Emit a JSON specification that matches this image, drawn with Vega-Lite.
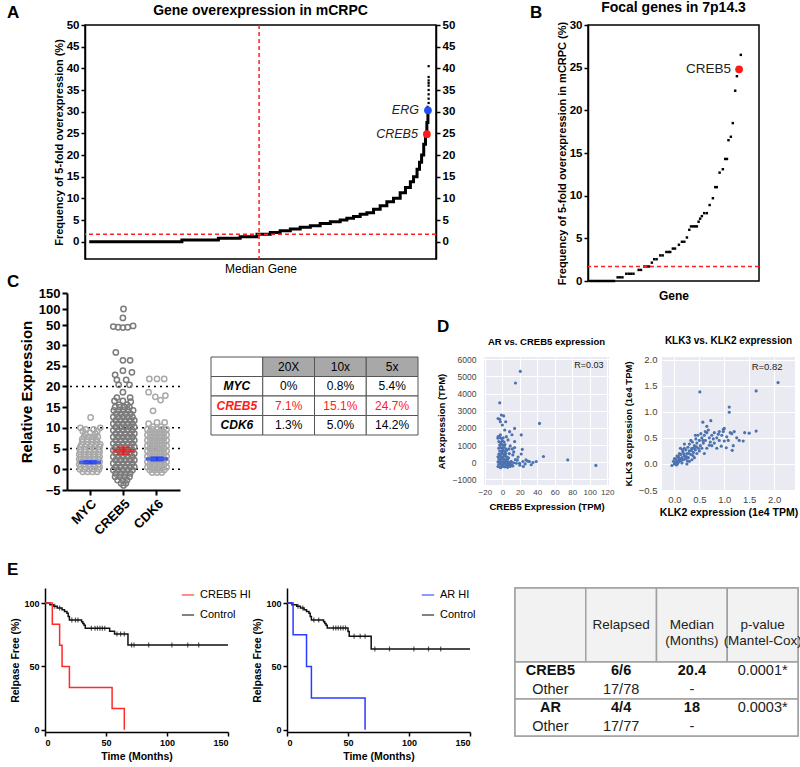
{
"$schema":"https://vega.github.io/schema/vega-lite/v6.json",
"background":"white",
"padding":{"left":7,"top":0,"right":0,"bottom":0},
"config":{
 "font":"Liberation Sans",
 "view":{"stroke":null},
 "axis":{"domainColor":"black","tickColor":"black","labelColor":"black","titleColor":"black","labelFont":"Liberation Sans","titleFont":"Liberation Sans","grid":false,"labelOverlap":false},
 "title":{"font":"Liberation Sans","color":"black"},
 "legend":{"labelFont":"Liberation Sans","labelColor":"black"},
 "text":{"font":"Liberation Sans"}
},
"datasets":{
 "curveA":[{"rank":1.2,"freq":0},{"rank":27.6,"freq":0.4},{"rank":38.0,"freq":0.8},{"rank":44.2,"freq":1.15},{"rank":49.0,"freq":1.7},{"rank":52.8,"freq":2.1},{"rank":55.6,"freq":2.5},{"rank":58.5,"freq":2.9},{"rank":61.3,"freq":3.3},{"rank":64.2,"freq":3.7},{"rank":67.0,"freq":4.2},{"rank":69.9,"freq":4.6},{"rank":72.7,"freq":5.0},{"rank":74.6,"freq":5.4},{"rank":76.5,"freq":5.8},{"rank":78.4,"freq":6.3},{"rank":80.3,"freq":6.7},{"rank":82.2,"freq":7.5},{"rank":84.1,"freq":8.3},{"rank":86.0,"freq":9.2},{"rank":87.9,"freq":10.0},{"rank":89.8,"freq":11.3},{"rank":91.3,"freq":12.5},{"rank":92.7,"freq":13.8},{"rank":93.6,"freq":15.0},{"rank":94.6,"freq":16.7},{"rank":95.3,"freq":18.3},{"rank":95.9,"freq":20.0},{"rank":96.5,"freq":22.5},{"rank":97.0,"freq":24.7},{"rank":97.4,"freq":27.5},{"rank":97.7,"freq":31.0},{"rank":97.9,"freq":31.0}],
 "dotsA":[{"rank":97.9,"freq":32},{"rank":97.9,"freq":33},{"rank":97.9,"freq":34},{"rank":97.9,"freq":35},{"rank":97.9,"freq":36},{"rank":97.9,"freq":36.6},{"rank":97.9,"freq":37.2},{"rank":97.9,"freq":38},{"rank":97.9,"freq":40.5}],
 "hiA":[{"gene":"ERG","rank":97.7,"freq":30.3},{"gene":"CREB5","rank":97.4,"freq":24.8}],
 "focalB":[{"rank":1,"freq":0},{"rank":2,"freq":0},{"rank":3,"freq":0},{"rank":4,"freq":0},{"rank":5,"freq":0},{"rank":6,"freq":0},{"rank":7,"freq":0},{"rank":8,"freq":0},{"rank":9,"freq":0},{"rank":10,"freq":0},{"rank":11,"freq":0},{"rank":12,"freq":0},{"rank":13.7,"freq":0.43},{"rank":14.8,"freq":0.43},{"rank":15.9,"freq":0.43},{"rank":17.7,"freq":0.85},{"rank":18.8,"freq":0.85},{"rank":19.9,"freq":0.85},{"rank":21,"freq":0.85},{"rank":23.4,"freq":1.3},{"rank":24.5,"freq":1.3},{"rank":26,"freq":1.7},{"rank":27.1,"freq":1.7},{"rank":28.2,"freq":1.7},{"rank":29.5,"freq":2.15},{"rank":30.6,"freq":2.55},{"rank":31.7,"freq":2.55},{"rank":33.4,"freq":3.0},{"rank":34.5,"freq":3.0},{"rank":36.2,"freq":3.4},{"rank":37.2,"freq":3.4},{"rank":38,"freq":3.4},{"rank":39.2,"freq":3.8},{"rank":40.2,"freq":3.8},{"rank":42,"freq":4.25},{"rank":43.4,"freq":4.6},{"rank":44.5,"freq":4.6},{"rank":45.7,"freq":5.1},{"rank":46.8,"freq":6.0},{"rank":47.6,"freq":6.4},{"rank":48.6,"freq":6.4},{"rank":49.5,"freq":6.4},{"rank":50.3,"freq":6.4},{"rank":51.1,"freq":6.95},{"rank":51.8,"freq":7.3},{"rank":52.6,"freq":7.6},{"rank":53.7,"freq":7.95},{"rank":54.9,"freq":7.95},{"rank":56.2,"freq":8.9},{"rank":57.7,"freq":9.7},{"rank":58.8,"freq":11.0},{"rank":59.5,"freq":11.0},{"rank":60.8,"freq":12.7},{"rank":62.3,"freq":13.1},{"rank":63.4,"freq":14.3},{"rank":64.2,"freq":14.3},{"rank":64.9,"freq":16.5},{"rank":66,"freq":16.9},{"rank":66.9,"freq":18.5},{"rank":68,"freq":22.3},{"rank":68.8,"freq":24.0},{"rank":70.6,"freq":26.5}],
 "hiB":[{"gene":"CREB5","rank":69.8,"freq":24.8}],
 "levelsC":[{"level":0},{"level":5},{"level":10},{"level":20}],
 "meanC":[{"g":"MYC","m":1.7,"lo":1.4,"hi":2.0},{"g":"CREB5","m":4.5,"lo":3.7,"hi":5.3},{"g":"CDK6","m":2.5,"lo":2.1,"hi":2.9}],
 "swarmC":[
 {"g":"MYC","v":12.5,"j":0.05},{"g":"MYC","v":10,"j":-0.8},{"g":"MYC","v":10,"j":0.85},{"g":"MYC","v":9.6,"j":-0.35},{"g":"MYC","v":9.6,"j":0.3},{"g":"MYC","v":9.2,"j":0.6},{"g":"MYC","v":9.2,"j":-0.6},{"g":"MYC","v":8.8,"j":0},{"g":"MYC","v":8.6,"j":0.45},{"g":"MYC","v":8.6,"j":-0.4},
 {"g":"MYC","v":7.8,"j":-0.5},{"g":"MYC","v":7.8,"j":-0.1},{"g":"MYC","v":7.8,"j":0.3},{"g":"MYC","v":7.8,"j":0.65},
 {"g":"MYC","v":7.2,"j":-0.65},{"g":"MYC","v":7.2,"j":-0.25},{"g":"MYC","v":7.2,"j":0.15},{"g":"MYC","v":7.2,"j":0.5},
 {"g":"MYC","v":6.6,"j":-0.6},{"g":"MYC","v":6.6,"j":-0.2},{"g":"MYC","v":6.6,"j":0.2},{"g":"MYC","v":6.6,"j":0.6},
 {"g":"MYC","v":6.0,"j":-0.7},{"g":"MYC","v":6.0,"j":-0.3},{"g":"MYC","v":6.0,"j":0.1},{"g":"MYC","v":6.0,"j":0.5},{"g":"MYC","v":6.0,"j":0.85},
 {"g":"MYC","v":5.4,"j":-0.8},{"g":"MYC","v":5.4,"j":-0.4},{"g":"MYC","v":5.4,"j":0},{"g":"MYC","v":5.4,"j":0.4},{"g":"MYC","v":5.4,"j":0.8},
 {"g":"MYC","v":4.8,"j":-0.85},{"g":"MYC","v":4.8,"j":-0.45},{"g":"MYC","v":4.8,"j":-0.05},{"g":"MYC","v":4.8,"j":0.35},{"g":"MYC","v":4.8,"j":0.75},
 {"g":"MYC","v":4.2,"j":-0.8},{"g":"MYC","v":4.2,"j":-0.4},{"g":"MYC","v":4.2,"j":0},{"g":"MYC","v":4.2,"j":0.4},{"g":"MYC","v":4.2,"j":0.8},
 {"g":"MYC","v":3.6,"j":-0.9},{"g":"MYC","v":3.6,"j":-0.5},{"g":"MYC","v":3.6,"j":-0.1},{"g":"MYC","v":3.6,"j":0.3},{"g":"MYC","v":3.6,"j":0.7},
 {"g":"MYC","v":3.0,"j":-0.8},{"g":"MYC","v":3.0,"j":-0.4},{"g":"MYC","v":3.0,"j":0},{"g":"MYC","v":3.0,"j":0.4},{"g":"MYC","v":3.0,"j":0.8},
 {"g":"MYC","v":2.4,"j":-0.9},{"g":"MYC","v":2.4,"j":-0.5},{"g":"MYC","v":2.4,"j":-0.1},{"g":"MYC","v":2.4,"j":0.3},{"g":"MYC","v":2.4,"j":0.7},
 {"g":"MYC","v":1.8,"j":-0.8},{"g":"MYC","v":1.8,"j":-0.4},{"g":"MYC","v":1.8,"j":0},{"g":"MYC","v":1.8,"j":0.4},{"g":"MYC","v":1.8,"j":0.8},
 {"g":"MYC","v":1.2,"j":-0.9},{"g":"MYC","v":1.2,"j":-0.5},{"g":"MYC","v":1.2,"j":-0.1},{"g":"MYC","v":1.2,"j":0.3},{"g":"MYC","v":1.2,"j":0.7},
 {"g":"MYC","v":0.6,"j":-0.8},{"g":"MYC","v":0.6,"j":-0.4},{"g":"MYC","v":0.6,"j":0},{"g":"MYC","v":0.6,"j":0.4},{"g":"MYC","v":0.6,"j":0.8},
 {"g":"MYC","v":0,"j":-0.85},{"g":"MYC","v":0,"j":-0.45},{"g":"MYC","v":0,"j":-0.05},{"g":"MYC","v":0,"j":0.35},{"g":"MYC","v":0,"j":0.75},
 {"g":"MYC","v":-0.6,"j":-0.6},{"g":"MYC","v":-0.6,"j":-0.2},{"g":"MYC","v":-0.6,"j":0.2},{"g":"MYC","v":-0.6,"j":0.6},
 {"g":"CREB5","v":100,"j":0},{"g":"CREB5","v":72,"j":-0.05},{"g":"CREB5","v":45,"j":-0.85},{"g":"CREB5","v":43,"j":-0.45},{"g":"CREB5","v":42,"j":-0.05},{"g":"CREB5","v":43,"j":0.35},{"g":"CREB5","v":47,"j":0.8},
 {"g":"CREB5","v":28.2,"j":-0.64},{"g":"CREB5","v":26.3,"j":-0.05},{"g":"CREB5","v":26.3,"j":0.55},{"g":"CREB5","v":23.4,"j":0.7},{"g":"CREB5","v":23.8,"j":-0.05},{"g":"CREB5","v":22.8,"j":-0.7},{"g":"CREB5","v":21.6,"j":-0.55},{"g":"CREB5","v":21.6,"j":0.22},{"g":"CREB5","v":20.4,"j":-0.4},{"g":"CREB5","v":20.4,"j":0.5},{"g":"CREB5","v":18.6,"j":-0.05},{"g":"CREB5","v":17.3,"j":-0.55},{"g":"CREB5","v":17.3,"j":0.55},{"g":"CREB5","v":16.5,"j":-0.75},{"g":"CREB5","v":16.5,"j":-0.05},{"g":"CREB5","v":16.3,"j":0.6},{"g":"CREB5","v":15.6,"j":-0.35},{"g":"CREB5","v":15.6,"j":0.3},
 {"g":"CREB5","v":15.0,"j":-0.7},{"g":"CREB5","v":15.0,"j":-0.3},{"g":"CREB5","v":15.0,"j":0.1},{"g":"CREB5","v":15.0,"j":0.5},
 {"g":"CREB5","v":14.2,"j":-0.8},{"g":"CREB5","v":14.2,"j":-0.4},{"g":"CREB5","v":14.2,"j":0},{"g":"CREB5","v":14.2,"j":0.4},{"g":"CREB5","v":14.2,"j":0.8},
 {"g":"CREB5","v":13.4,"j":-0.6},{"g":"CREB5","v":13.4,"j":-0.2},{"g":"CREB5","v":13.4,"j":0.2},{"g":"CREB5","v":13.4,"j":0.6},
 {"g":"CREB5","v":12.6,"j":-0.85},{"g":"CREB5","v":12.6,"j":-0.45},{"g":"CREB5","v":12.6,"j":-0.05},{"g":"CREB5","v":12.6,"j":0.35},{"g":"CREB5","v":12.6,"j":0.75},
 {"g":"CREB5","v":11.8,"j":-0.65},{"g":"CREB5","v":11.8,"j":-0.25},{"g":"CREB5","v":11.8,"j":0.15},{"g":"CREB5","v":11.8,"j":0.55},{"g":"CREB5","v":11.8,"j":0.9},
 {"g":"CREB5","v":11.0,"j":-0.85},{"g":"CREB5","v":11.0,"j":-0.45},{"g":"CREB5","v":11.0,"j":-0.05},{"g":"CREB5","v":11.0,"j":0.35},{"g":"CREB5","v":11.0,"j":0.75},
 {"g":"CREB5","v":10.2,"j":-0.65},{"g":"CREB5","v":10.2,"j":-0.25},{"g":"CREB5","v":10.2,"j":0.15},{"g":"CREB5","v":10.2,"j":0.55},{"g":"CREB5","v":10.2,"j":0.9},
 {"g":"CREB5","v":9.4,"j":-0.85},{"g":"CREB5","v":9.4,"j":-0.45},{"g":"CREB5","v":9.4,"j":-0.05},{"g":"CREB5","v":9.4,"j":0.35},{"g":"CREB5","v":9.4,"j":0.75},
 {"g":"CREB5","v":8.6,"j":-0.65},{"g":"CREB5","v":8.6,"j":-0.25},{"g":"CREB5","v":8.6,"j":0.15},{"g":"CREB5","v":8.6,"j":0.55},{"g":"CREB5","v":8.6,"j":0.9},
 {"g":"CREB5","v":7.8,"j":-0.85},{"g":"CREB5","v":7.8,"j":-0.45},{"g":"CREB5","v":7.8,"j":-0.05},{"g":"CREB5","v":7.8,"j":0.35},{"g":"CREB5","v":7.8,"j":0.75},
 {"g":"CREB5","v":7.0,"j":-0.65},{"g":"CREB5","v":7.0,"j":-0.25},{"g":"CREB5","v":7.0,"j":0.15},{"g":"CREB5","v":7.0,"j":0.55},{"g":"CREB5","v":7.0,"j":0.9},
 {"g":"CREB5","v":6.2,"j":-0.85},{"g":"CREB5","v":6.2,"j":-0.45},{"g":"CREB5","v":6.2,"j":-0.05},{"g":"CREB5","v":6.2,"j":0.35},{"g":"CREB5","v":6.2,"j":0.75},
 {"g":"CREB5","v":5.4,"j":-0.65},{"g":"CREB5","v":5.4,"j":-0.25},{"g":"CREB5","v":5.4,"j":0.15},{"g":"CREB5","v":5.4,"j":0.55},{"g":"CREB5","v":5.4,"j":0.9},
 {"g":"CREB5","v":4.6,"j":-0.85},{"g":"CREB5","v":4.6,"j":-0.45},{"g":"CREB5","v":4.6,"j":-0.05},{"g":"CREB5","v":4.6,"j":0.35},{"g":"CREB5","v":4.6,"j":0.75},
 {"g":"CREB5","v":3.8,"j":-0.65},{"g":"CREB5","v":3.8,"j":-0.25},{"g":"CREB5","v":3.8,"j":0.15},{"g":"CREB5","v":3.8,"j":0.55},{"g":"CREB5","v":3.8,"j":0.9},
 {"g":"CREB5","v":3.0,"j":-0.85},{"g":"CREB5","v":3.0,"j":-0.45},{"g":"CREB5","v":3.0,"j":-0.05},{"g":"CREB5","v":3.0,"j":0.35},{"g":"CREB5","v":3.0,"j":0.75},
 {"g":"CREB5","v":2.2,"j":-0.65},{"g":"CREB5","v":2.2,"j":-0.25},{"g":"CREB5","v":2.2,"j":0.15},{"g":"CREB5","v":2.2,"j":0.55},{"g":"CREB5","v":2.2,"j":0.9},
 {"g":"CREB5","v":1.4,"j":-0.85},{"g":"CREB5","v":1.4,"j":-0.45},{"g":"CREB5","v":1.4,"j":-0.05},{"g":"CREB5","v":1.4,"j":0.35},{"g":"CREB5","v":1.4,"j":0.75},
 {"g":"CREB5","v":0.6,"j":-0.65},{"g":"CREB5","v":0.6,"j":-0.25},{"g":"CREB5","v":0.6,"j":0.15},{"g":"CREB5","v":0.6,"j":0.55},{"g":"CREB5","v":0.6,"j":0.9},
 {"g":"CREB5","v":-0.2,"j":-0.85},{"g":"CREB5","v":-0.2,"j":-0.45},{"g":"CREB5","v":-0.2,"j":-0.05},{"g":"CREB5","v":-0.2,"j":0.35},{"g":"CREB5","v":-0.2,"j":0.75},
 {"g":"CREB5","v":-1.0,"j":-0.65},{"g":"CREB5","v":-1.0,"j":-0.25},{"g":"CREB5","v":-1.0,"j":0.15},{"g":"CREB5","v":-1.0,"j":0.55},
 {"g":"CREB5","v":-1.8,"j":-0.7},{"g":"CREB5","v":-1.8,"j":-0.3},{"g":"CREB5","v":-1.8,"j":0.1},{"g":"CREB5","v":-1.8,"j":0.5},
 {"g":"CREB5","v":-2.6,"j":-0.5},{"g":"CREB5","v":-2.6,"j":-0.1},{"g":"CREB5","v":-2.6,"j":0.3},
 {"g":"CREB5","v":-3.4,"j":-0.2},{"g":"CREB5","v":-3.4,"j":0.2},{"g":"CREB5","v":-3.9,"j":0},
 {"g":"CDK6","v":21.8,"j":-0.64},{"g":"CDK6","v":21.8,"j":0},{"g":"CDK6","v":21.8,"j":0.6},{"g":"CDK6","v":18.6,"j":-0.7},{"g":"CDK6","v":17.5,"j":-0.14},{"g":"CDK6","v":16.7,"j":0.3},{"g":"CDK6","v":17.8,"j":0.7},{"g":"CDK6","v":14.1,"j":-0.33},{"g":"CDK6","v":11.3,"j":0.64},{"g":"CDK6","v":11.0,"j":-0.7},{"g":"CDK6","v":11.3,"j":0},{"g":"CDK6","v":10.3,"j":-0.35},{"g":"CDK6","v":10.3,"j":0.35},
 {"g":"CDK6","v":9.6,"j":-0.8},{"g":"CDK6","v":9.6,"j":-0.4},{"g":"CDK6","v":9.6,"j":0},{"g":"CDK6","v":9.6,"j":0.4},{"g":"CDK6","v":9.6,"j":0.8},
 {"g":"CDK6","v":8.95,"j":-0.6},{"g":"CDK6","v":8.95,"j":-0.2},{"g":"CDK6","v":8.95,"j":0.2},{"g":"CDK6","v":8.95,"j":0.6},
 {"g":"CDK6","v":8.3,"j":-0.8},{"g":"CDK6","v":8.3,"j":-0.4},{"g":"CDK6","v":8.3,"j":0},{"g":"CDK6","v":8.3,"j":0.4},{"g":"CDK6","v":8.3,"j":0.8},
 {"g":"CDK6","v":7.65,"j":-0.6},{"g":"CDK6","v":7.65,"j":-0.2},{"g":"CDK6","v":7.65,"j":0.2},{"g":"CDK6","v":7.65,"j":0.6},
 {"g":"CDK6","v":7.0,"j":-0.8},{"g":"CDK6","v":7.0,"j":-0.4},{"g":"CDK6","v":7.0,"j":0},{"g":"CDK6","v":7.0,"j":0.4},{"g":"CDK6","v":7.0,"j":0.8},
 {"g":"CDK6","v":6.35,"j":-0.6},{"g":"CDK6","v":6.35,"j":-0.2},{"g":"CDK6","v":6.35,"j":0.2},{"g":"CDK6","v":6.35,"j":0.6},
 {"g":"CDK6","v":5.7,"j":-0.8},{"g":"CDK6","v":5.7,"j":-0.4},{"g":"CDK6","v":5.7,"j":0},{"g":"CDK6","v":5.7,"j":0.4},{"g":"CDK6","v":5.7,"j":0.8},
 {"g":"CDK6","v":5.05,"j":-0.6},{"g":"CDK6","v":5.05,"j":-0.2},{"g":"CDK6","v":5.05,"j":0.2},{"g":"CDK6","v":5.05,"j":0.6},
 {"g":"CDK6","v":4.4,"j":-0.8},{"g":"CDK6","v":4.4,"j":-0.4},{"g":"CDK6","v":4.4,"j":0},{"g":"CDK6","v":4.4,"j":0.4},{"g":"CDK6","v":4.4,"j":0.8},
 {"g":"CDK6","v":3.75,"j":-0.6},{"g":"CDK6","v":3.75,"j":-0.2},{"g":"CDK6","v":3.75,"j":0.2},{"g":"CDK6","v":3.75,"j":0.6},
 {"g":"CDK6","v":3.1,"j":-0.8},{"g":"CDK6","v":3.1,"j":-0.4},{"g":"CDK6","v":3.1,"j":0},{"g":"CDK6","v":3.1,"j":0.4},{"g":"CDK6","v":3.1,"j":0.8},
 {"g":"CDK6","v":2.45,"j":-0.6},{"g":"CDK6","v":2.45,"j":-0.2},{"g":"CDK6","v":2.45,"j":0.2},{"g":"CDK6","v":2.45,"j":0.6},
 {"g":"CDK6","v":1.8,"j":-0.8},{"g":"CDK6","v":1.8,"j":-0.4},{"g":"CDK6","v":1.8,"j":0},{"g":"CDK6","v":1.8,"j":0.4},{"g":"CDK6","v":1.8,"j":0.8},
 {"g":"CDK6","v":1.15,"j":-0.6},{"g":"CDK6","v":1.15,"j":-0.2},{"g":"CDK6","v":1.15,"j":0.2},{"g":"CDK6","v":1.15,"j":0.6},
 {"g":"CDK6","v":0.5,"j":-0.8},{"g":"CDK6","v":0.5,"j":-0.4},{"g":"CDK6","v":0.5,"j":0},{"g":"CDK6","v":0.5,"j":0.4},{"g":"CDK6","v":0.5,"j":0.8},
 {"g":"CDK6","v":-0.15,"j":-0.6},{"g":"CDK6","v":-0.15,"j":-0.2},{"g":"CDK6","v":-0.15,"j":0.2},{"g":"CDK6","v":-0.15,"j":0.6},
 {"g":"CDK6","v":-0.8,"j":-0.4},{"g":"CDK6","v":-0.8,"j":0},{"g":"CDK6","v":-0.8,"j":0.4}
 ],
 "tabC":[{"r":"hdr","c":"c0","t":""},{"r":"hdr","c":"c1","t":"20X"},{"r":"hdr","c":"c2","t":"10x"},{"r":"hdr","c":"c3","t":"5x"},
  {"r":"MYC","c":"c0","t":"MYC"},{"r":"MYC","c":"c1","t":"0%"},{"r":"MYC","c":"c2","t":"0.8%"},{"r":"MYC","c":"c3","t":"5.4%"},
  {"r":"CREB5","c":"c0","t":"CREB5"},{"r":"CREB5","c":"c1","t":"7.1%"},{"r":"CREB5","c":"c2","t":"15.1%"},{"r":"CREB5","c":"c3","t":"24.7%"},
  {"r":"CDK6","c":"c0","t":"CDK6"},{"r":"CDK6","c":"c1","t":"1.3%"},{"r":"CDK6","c":"c2","t":"5.0%"},{"r":"CDK6","c":"c3","t":"14.2%"}],
 "dL":[{"creb5":-5,"ar":-250},{"creb5":-3,"ar":-280},{"creb5":-1,"ar":-260},{"creb5":1,"ar":-240},{"creb5":3,"ar":-270},{"creb5":5,"ar":-230},{"creb5":8,"ar":-200},
  {"creb5":-4,"ar":-120},{"creb5":-2,"ar":-100},{"creb5":0,"ar":-150},{"creb5":2,"ar":-90},{"creb5":4,"ar":-130},{"creb5":6,"ar":-80},{"creb5":9,"ar":-110},
  {"creb5":-5,"ar":20},{"creb5":-3,"ar":50},{"creb5":-1,"ar":0},{"creb5":1,"ar":30},{"creb5":3,"ar":-10},{"creb5":5,"ar":60},{"creb5":7,"ar":10},{"creb5":10,"ar":30},
  {"creb5":-4,"ar":180},{"creb5":-2,"ar":150},{"creb5":0,"ar":200},{"creb5":2,"ar":170},{"creb5":4,"ar":140},{"creb5":6,"ar":190},
  {"creb5":-5,"ar":320},{"creb5":-3,"ar":350},{"creb5":-1,"ar":300},{"creb5":1,"ar":330},{"creb5":3,"ar":360},{"creb5":5,"ar":310},
  {"creb5":-4,"ar":480},{"creb5":-2,"ar":450},{"creb5":0,"ar":520},{"creb5":2,"ar":470},{"creb5":4,"ar":500},
  {"creb5":-3,"ar":650},{"creb5":-1,"ar":620},{"creb5":1,"ar":680},{"creb5":3,"ar":600},{"creb5":5,"ar":700},
  {"creb5":-4,"ar":820},{"creb5":-2,"ar":850},{"creb5":0,"ar":800},{"creb5":2,"ar":880},{"creb5":4,"ar":780},
  {"creb5":-3,"ar":1000},{"creb5":-1,"ar":1050},{"creb5":1,"ar":980},{"creb5":3,"ar":1020},
  {"creb5":-4,"ar":1200},{"creb5":-2,"ar":1150},{"creb5":0,"ar":1250},{"creb5":2,"ar":1180},
  {"creb5":-5,"ar":1400},{"creb5":-3,"ar":1450},{"creb5":-1,"ar":1380},{"creb5":1,"ar":1420},
  {"creb5":-4.9,"ar":1490},{"creb5":-2.3,"ar":1590},{"creb5":4.6,"ar":1490},{"creb5":8.3,"ar":1780},{"creb5":2.7,"ar":1880},{"creb5":-2.3,"ar":2360},{"creb5":0,"ar":2170},{"creb5":3.8,"ar":2360},{"creb5":-4.9,"ar":2550},{"creb5":-3,"ar":2500},{"creb5":-1.1,"ar":2750},{"creb5":1.5,"ar":2700},{"creb5":6.5,"ar":1300},{"creb5":7.6,"ar":775},{"creb5":11.4,"ar":775},{"creb5":14,"ar":850},{"creb5":12,"ar":425},{"creb5":10,"ar":40},{"creb5":16,"ar":-60},{"creb5":19.7,"ar":-60},{"creb5":23.5,"ar":40},{"creb5":24,"ar":-250},{"creb5":27,"ar":135},{"creb5":31,"ar":40},{"creb5":35,"ar":-20},{"creb5":38.7,"ar":40},{"creb5":21.6,"ar":480},{"creb5":22.8,"ar":750},{"creb5":14,"ar":1200},{"creb5":12,"ar":-220},{"creb5":15,"ar":150},{"creb5":18,"ar":300},{"creb5":13,"ar":600},{"creb5":9,"ar":950},{"creb5":11,"ar":1600},{"creb5":20.5,"ar":5300},{"creb5":15,"ar":4620},{"creb5":-3,"ar":3460},{"creb5":42.5,"ar":2260},{"creb5":14,"ar":1970},{"creb5":21.6,"ar":1590},{"creb5":47,"ar":330},{"creb5":74.8,"ar":135},{"creb5":107,"ar":-190},{"creb5":6,"ar":-300},{"creb5":-2,"ar":-320},{"creb5":8,"ar":500},{"creb5":7,"ar":250},{"creb5":9,"ar":-250},{"creb5":11,"ar":-150},{"creb5":13,"ar":-30},{"creb5":17,"ar":120},{"creb5":20,"ar":-180},{"creb5":26,"ar":-100},{"creb5":29,"ar":60},{"creb5":33,"ar":-150}],
 "dR":[{"klk2":-0.05,"klk3":-0.03},{"klk2":0,"klk3":0},{"klk2":0.02,"klk3":0.03},{"klk2":0.04,"klk3":-0.02},{"klk2":0.05,"klk3":0.05},{"klk2":0.03,"klk3":0.09},{"klk2":0.08,"klk3":0.03},{"klk2":0.1,"klk3":0.1},{"klk2":0.12,"klk3":0.06},{"klk2":0.07,"klk3":0.13},{"klk2":0.15,"klk3":0.12},{"klk2":0.18,"klk3":0.08},{"klk2":0.13,"klk3":0.18},{"klk2":0.2,"klk3":0.15},{"klk2":0.22,"klk3":0.1},{"klk2":0.17,"klk3":0.23},{"klk2":0.25,"klk3":0.2},{"klk2":0.28,"klk3":0.12},{"klk2":0.23,"klk3":0.27},{"klk2":0.3,"klk3":0.25},{"klk2":0.33,"klk3":0.18},{"klk2":0.27,"klk3":0.32},{"klk2":0.35,"klk3":0.3},{"klk2":0.38,"klk3":0.22},{"klk2":0.3,"klk3":0.38},{"klk2":0.4,"klk3":0.35},{"klk2":0.42,"klk3":0.27},{"klk2":0.36,"klk3":0.42},{"klk2":0.45,"klk3":0.4},{"klk2":0.48,"klk3":0.3},{"klk2":0.43,"klk3":0.48},{"klk2":0.5,"klk3":0.45},{"klk2":0.52,"klk3":0.35},{"klk2":0.55,"klk3":0.5},{"klk2":0.58,"klk3":0.4},{"klk2":0.47,"klk3":0.55},{"klk2":0.6,"klk3":0.55},{"klk2":0.62,"klk3":0.45},{"klk2":0.65,"klk3":0.6},{"klk2":0.7,"klk3":0.5},{"klk2":0.68,"klk3":0.65},{"klk2":0.75,"klk3":0.55},{"klk2":0.72,"klk3":0.42},{"klk2":0.8,"klk3":0.6},{"klk2":0.85,"klk3":0.5},{"klk2":0.9,"klk3":0.62},{"klk2":0.95,"klk3":0.55},{"klk2":0.98,"klk3":0.66},{"klk2":1.0,"klk3":0.68},{"klk2":1.05,"klk3":0.52},{"klk2":1.08,"klk3":0.45},{"klk2":1.12,"klk3":0.6},{"klk2":1.15,"klk3":0.58},{"klk2":1.2,"klk3":0.62},{"klk2":1.25,"klk3":0.5},{"klk2":1.18,"klk3":0.35},{"klk2":1.3,"klk3":0.45},{"klk2":1.38,"klk3":0.44},{"klk2":1.5,"klk3":0.59},{"klk2":1.64,"klk3":0.63},{"klk2":1.41,"klk3":0.6},{"klk2":0.57,"klk3":0.8},{"klk2":0.73,"klk3":0.83},{"klk2":0.51,"klk3":1.38},{"klk2":1.1,"klk3":1.09},{"klk2":1.1,"klk3":0.99},{"klk2":1.64,"klk3":1.4},{"klk2":2.08,"klk3":1.56},{"klk2":0.94,"klk3":0.34},{"klk2":1.04,"klk3":0.31},{"klk2":0.85,"klk3":0.3},{"klk2":0.65,"klk3":0.3},{"klk2":0.6,"klk3":0.2},{"klk2":0.4,"klk3":0.12},{"klk2":0.2,"klk3":0.3},{"klk2":0.1,"klk3":0.2},{"klk2":0.05,"klk3":0.15},{"klk2":0,"klk3":0.1},{"klk2":-0.02,"klk3":0.05},{"klk2":0.35,"klk3":0.08},{"klk2":0.5,"klk3":0.25},{"klk2":0.3,"klk3":0.05},{"klk2":0.15,"klk3":0.02},{"klk2":0.45,"klk3":0.2},{"klk2":0.55,"klk3":0.3},{"klk2":0.25,"klk3":0.0},{"klk2":0.75,"klk3":0.35},{"klk2":0.9,"klk3":0.45},{"klk2":0.8,"klk3":0.4},{"klk2":0.65,"klk3":0.72},{"klk2":0.42,"klk3":0.55},{"klk2":0.33,"klk3":0.45},{"klk2":0.2,"klk3":0.38},{"klk2":0.12,"klk3":0.3},{"klk2":0.06,"klk3":0.0},{"klk2":0.09,"klk3":0.07},{"klk2":0.14,"klk3":0.1},{"klk2":0.19,"klk3":0.19},{"klk2":0.24,"klk3":0.14},{"klk2":0.29,"klk3":0.2},{"klk2":0.34,"klk3":0.26},{"klk2":0.39,"klk3":0.3},{"klk2":0.44,"klk3":0.33},{"klk2":0.08,"klk3":0.15},{"klk2":0.26,"klk3":0.06},{"klk2":0.37,"klk3":0.16},{"klk2":0.16,"klk3":0.27},{"klk2":0.53,"klk3":0.58},{"klk2":0.62,"klk3":0.62},{"klk2":0.78,"klk3":0.48},{"klk2":0.88,"klk3":0.57},{"klk2":1.0,"klk3":0.44},{"klk2":0.7,"klk3":0.36},{"klk2":0.57,"klk3":0.45},{"klk2":1.16,"klk3":0.26},{"klk2":0.98,"klk3":0.62}],
 "kmE1":[{"grp":"Control","t":0,"s":100},{"grp":"Control","t":4,"s":98.7},{"grp":"Control","t":7,"s":97.4},{"grp":"Control","t":10,"s":96.1},{"grp":"Control","t":14,"s":94.8},{"grp":"Control","t":16,"s":93.4},{"grp":"Control","t":18,"s":92},{"grp":"Control","t":19,"s":89.4},{"grp":"Control","t":20,"s":86.6},{"grp":"Control","t":30,"s":85.2},{"grp":"Control","t":31,"s":83.8},{"grp":"Control","t":32,"s":82.4},{"grp":"Control","t":33,"s":80.2},{"grp":"Control","t":53,"s":77.8},{"grp":"Control","t":57,"s":75.6},{"grp":"Control","t":68,"s":66.9},{"grp":"Control","t":150,"s":66.9},
  {"grp":"CREB5 HI","t":0,"s":100},{"grp":"CREB5 HI","t":6,"s":83.3},{"grp":"CREB5 HI","t":12,"s":66.7},{"grp":"CREB5 HI","t":14,"s":50},{"grp":"CREB5 HI","t":20,"s":33.3},{"grp":"CREB5 HI","t":55,"s":16.7},{"grp":"CREB5 HI","t":65,"s":0}],
 "censE1":[{"grp":"Control","t":8,"s":97.4},{"grp":"Control","t":12,"s":96.1},{"grp":"Control","t":22,"s":86.6},{"grp":"Control","t":25,"s":86.6},{"grp":"Control","t":27,"s":86.6},{"grp":"Control","t":38,"s":80.2},{"grp":"Control","t":41,"s":80.2},{"grp":"Control","t":43,"s":80.2},{"grp":"Control","t":45,"s":80.2},{"grp":"Control","t":47,"s":80.2},{"grp":"Control","t":49,"s":80.2},{"grp":"Control","t":59,"s":75.6},{"grp":"Control","t":62,"s":75.6},{"grp":"Control","t":65,"s":75.6},{"grp":"Control","t":71,"s":66.9},{"grp":"Control","t":73,"s":66.9},{"grp":"Control","t":85,"s":66.9},{"grp":"Control","t":104,"s":66.9},{"grp":"Control","t":117,"s":66.9},{"grp":"Control","t":126,"s":66.9}],
 "kmE2":[{"grp":"Control","t":0,"s":100},{"grp":"Control","t":4,"s":98.7},{"grp":"Control","t":8,"s":97.4},{"grp":"Control","t":11,"s":96.1},{"grp":"Control","t":14,"s":94.8},{"grp":"Control","t":16,"s":93.4},{"grp":"Control","t":18,"s":92},{"grp":"Control","t":19,"s":89.4},{"grp":"Control","t":20,"s":86.6},{"grp":"Control","t":30,"s":85.2},{"grp":"Control","t":31,"s":83.8},{"grp":"Control","t":32,"s":82.4},{"grp":"Control","t":33,"s":80.4},{"grp":"Control","t":50,"s":77.5},{"grp":"Control","t":51,"s":73.8},{"grp":"Control","t":69,"s":63.8},{"grp":"Control","t":150,"s":63.8},
  {"grp":"AR HI","t":0,"s":100},{"grp":"AR HI","t":5,"s":75},{"grp":"AR HI","t":16,"s":50},{"grp":"AR HI","t":20,"s":25},{"grp":"AR HI","t":64,"s":0}],
 "censE2":[{"grp":"Control","t":9,"s":97.4},{"grp":"Control","t":13,"s":96.1},{"grp":"Control","t":22,"s":86.6},{"grp":"Control","t":26,"s":86.6},{"grp":"Control","t":38,"s":80.4},{"grp":"Control","t":40,"s":80.4},{"grp":"Control","t":42,"s":80.4},{"grp":"Control","t":44,"s":80.4},{"grp":"Control","t":46,"s":80.4},{"grp":"Control","t":48,"s":80.4},{"grp":"Control","t":55,"s":73.8},{"grp":"Control","t":60,"s":73.8},{"grp":"Control","t":64,"s":73.8},{"grp":"Control","t":72,"s":63.8},{"grp":"Control","t":84,"s":63.8},{"grp":"Control","t":104,"s":63.8},{"grp":"Control","t":116,"s":63.8},{"grp":"Control","t":126,"s":63.8}],
 "tabEh":[{"blk":"hdr","c":"c0","t":""},{"blk":"hdr","c":"c1","t":"Relapsed"},{"blk":"hdr","c":"c2","t":"Median\n(Months)"},{"blk":"hdr","c":"c3","t":"p-value\n(Mantel-Cox)"}],
 "tabEg":[{"g":"g1"},{"g":"g2"}],
 "tabEb":[{"r":"r1","c":"c0","t":"CREB5"},{"r":"r1","c":"c1","t":"6/6"},{"r":"r1","c":"c2","t":"20.4"},{"r":"r1","c":"c3","t":"0.0001*"},
  {"r":"r2","c":"c0","t":"Other"},{"r":"r2","c":"c1","t":"17/78"},{"r":"r2","c":"c2","t":"-"},
  {"r":"r3","c":"c0","t":"AR"},{"r":"r3","c":"c1","t":"4/4"},{"r":"r3","c":"c2","t":"18"},{"r":"r3","c":"c3","t":"0.0003*"},
  {"r":"r4","c":"c0","t":"Other"},{"r":"r4","c":"c1","t":"17/77"},{"r":"r4","c":"c2","t":"-"}]
},
"spacing":-29,
"resolve":{"scale":{"color":"independent","xOffset":"independent"},"legend":{"color":"independent"}},
"vconcat":[
 {"hconcat":[
   {"width":78,"height":1,"data":{"values":[]},"mark":"point","title":{"text":"A","anchor":"start","fontSize":17,"fontWeight":"bold","offset":3}},
   {"width":351,"height":234,
    "view":{"stroke":"black","strokeWidth":1.5},
    "title":{"text":"Gene overexpression in mCRPC","fontSize":14,"fontWeight":"bold","offset":1,"frame":"group"},
    "layer":[
     {"data":{"name":"curveA"},"mark":{"type":"line","interpolate":"step-after","color":"black","strokeWidth":3},
      "encoding":{
       "x":{"field":"rank","type":"quantitative","scale":{"domain":[0,100],"nice":false,"zero":false},"axis":{"title":"Median Gene","labels":false,"ticks":false,"domain":false,"titleFontWeight":"normal","titleFontSize":12,"titlePadding":4}},
       "y":{"field":"freq","type":"quantitative","scale":{"domain":[-4,50],"nice":false,"zero":false},"axis":{"orient":"left","values":[0,5,10,15,20,25,30,35,40,45,50],"tickCount":30,"title":"Frequency of 5-fold overexpression (%)","titleFontSize":11,"titleFontWeight":"bold","titlePadding":2,"labelFontSize":11.5,"labelFontWeight":"bold","domainWidth":1.5,"tickWidth":1.5,"tickSize":4,"labelPadding":2}}}},
     {"data":{"name":"dotsA"},"mark":{"type":"square","color":"black","size":5,"opacity":1},
      "encoding":{
       "x":{"field":"rank","type":"quantitative"},
       "y":{"field":"freq","type":"quantitative","axis":{"orient":"right","values":[0,5,10,15,20,25,30,35,40,45,50],"tickCount":30,"title":null,"labelFontSize":11.5,"labelFontWeight":"bold","domainWidth":1.5,"tickWidth":1.5,"tickSize":4,"labelPadding":2}}}},
     {"data":{"values":[{}]},"mark":{"type":"rule","color":"#ff2020","strokeDash":[4,3],"strokeWidth":1.5},"encoding":{"x":{"datum":49.6}}},
     {"data":{"values":[{}]},"mark":{"type":"rule","color":"#ff2020","strokeDash":[4,3],"strokeWidth":1.5},"encoding":{"y":{"datum":1.7,"axis":null}}},
     {"data":{"name":"hiA"},"mark":{"type":"circle","size":60,"opacity":1},
      "encoding":{"x":{"field":"rank","type":"quantitative"},"y":{"field":"freq","type":"quantitative","axis":null},"color":{"field":"gene","type":"nominal","scale":{"domain":["ERG","CREB5"],"range":["#1f4fff","#ff1a1a"]},"legend":null}}},
     {"data":{"name":"hiA"},"mark":{"type":"text","align":"right","dx":-9,"fontSize":12.5,"fontStyle":"italic","color":"#222"},
      "encoding":{"x":{"field":"rank","type":"quantitative"},"y":{"field":"freq","type":"quantitative","axis":null},"text":{"field":"gene"}}}
    ],
    "resolve":{"axis":{"y":"independent"}}},
   {"width":152,"height":1,"data":{"values":[]},"mark":"point","title":{"text":"B","anchor":"start","dx":94,"fontSize":17,"fontWeight":"bold","offset":3}},
   {"width":171,"height":256,
    "view":{"stroke":"black","strokeWidth":1.5},
    "title":{"text":"Focal genes in 7p14.3","fontSize":14,"fontWeight":"bold","offset":4,"frame":"group"},
    "layer":[
     {"data":{"name":"focalB"},"mark":{"type":"square","size":6,"color":"black","opacity":1},
      "encoding":{
       "x":{"field":"rank","type":"quantitative","scale":{"domain":[0,79],"nice":false,"zero":false},"axis":{"title":"Gene","labels":false,"ticks":false,"domain":false,"titleFontSize":12,"titleFontWeight":"bold","titlePadding":9}},
       "y":{"field":"freq","type":"quantitative","scale":{"domain":[0,30],"nice":false},"axis":{"values":[0,5,10,15,20,25,30],"tickCount":30,"title":"Frequency of 5-fold overexpression in mCRPC (%)","titleFontSize":11,"titleFontWeight":"bold","titlePadding":2,"labelFontSize":11.5,"labelFontWeight":"bold","domainWidth":1.5,"tickWidth":1.5,"tickSize":4,"labelPadding":2}}}},
     {"data":{"values":[{}]},"mark":{"type":"rule","color":"#ff2020","strokeDash":[4,3],"strokeWidth":1.5},"encoding":{"y":{"datum":1.7}}},
     {"data":{"name":"hiB"},"mark":{"type":"circle","size":60,"color":"#ff1a1a","opacity":1},
      "encoding":{"x":{"field":"rank","type":"quantitative"},"y":{"field":"freq","type":"quantitative"}}},
     {"data":{"name":"hiB"},"mark":{"type":"text","align":"right","dx":-8,"fontSize":13.5,"color":"#222"},
      "encoding":{"x":{"field":"rank","type":"quantitative"},"y":{"field":"freq","type":"quantitative"},"text":{"field":"gene"}}}
    ]}
  ],"bounds":"flush","spacing":0,"resolve":{"scale":{"color":"independent"},"legend":{"color":"independent"}}},
 {"hconcat":[
   {"width":60,"height":1,"data":{"values":[]},"mark":"point","title":{"text":"C","anchor":"start","fontSize":17,"fontWeight":"bold","offset":66}},
   {"width":113,"height":133,
    "layer":[
     {"data":{"name":"levelsC"},"mark":{"type":"rule","strokeDash":[2,4],"strokeWidth":1.5,"color":"black"},
      "encoding":{"y":{"field":"level","type":"quantitative","scale":{"domain":[-5,30,40,150],"range":[133,-12,-28.8,-64],"nice":false,"zero":false},
        "axis":{"values":[-5,0,5,10,15,20,25,30,50,100,150],"tickCount":40,"title":"Relative Expression","titleFontSize":15,"titleFontWeight":"bold","titlePadding":4,"labelFontSize":13,"labelFontWeight":"bold","domainWidth":2,"tickWidth":2,"tickSize":5,"labelPadding":2,"labelOverlap":false}}}},
     {"data":{"name":"swarmC"},"mark":{"type":"point","filled":false,"size":28,"strokeWidth":1.5,"opacity":1},
      "encoding":{
       "x":{"field":"g","type":"nominal","scale":{"type":"band","domain":["MYC","CREB5","CDK6"],"paddingInner":0,"paddingOuter":0.187},"axis":{"title":null,"labelAngle":-45,"labelFontSize":13,"labelFontWeight":"bold","domainWidth":2,"tickWidth":2,"tickSize":5}},
       "xOffset":{"field":"j","type":"quantitative","scale":{"domain":[-1,1],"range":[4.75,28.75]}},
       "y":{"field":"v","type":"quantitative"},
       "color":{"field":"g","type":"nominal","scale":{"domain":["MYC","CREB5","CDK6"],"range":["#a9a9a9","#7b7b7b","#a9a9a9"]},"legend":null}}},
     {"data":{"name":"meanC"},"mark":{"type":"rule","strokeWidth":2},
      "encoding":{"x":{"field":"g","type":"nominal"},"y":{"field":"lo","type":"quantitative"},"y2":{"field":"hi"},"color":{"condition":{"test":"datum.g === 'CREB5'","value":"#ff1010"},"value":"#1f3fff"}}},
     {"data":{"name":"meanC"},"mark":{"type":"tick","thickness":2,"size":13},
      "encoding":{"x":{"field":"g","type":"nominal"},"y":{"field":"lo","type":"quantitative"},"color":{"condition":{"test":"datum.g === 'CREB5'","value":"#ff1010"},"value":"#1f3fff"}}},
     {"data":{"name":"meanC"},"mark":{"type":"tick","thickness":2,"size":13},
      "encoding":{"x":{"field":"g","type":"nominal"},"y":{"field":"hi","type":"quantitative"},"color":{"condition":{"test":"datum.g === 'CREB5'","value":"#ff1010"},"value":"#1f3fff"}}},
     {"data":{"name":"meanC"},"mark":{"type":"tick","thickness":3.5,"size":22},
      "encoding":{"x":{"field":"g","type":"nominal"},"y":{"field":"m","type":"quantitative"},"color":{"condition":{"test":"datum.g === 'CREB5'","value":"#ff1010"},"value":"#1f3fff"}}}
    ]},
   {"width":31,"height":1,"data":{"values":[]},"mark":"point"},
   {"width":207,"height":78,"data":{"name":"tabC"},
    "layer":[
     {"mark":{"type":"rect","stroke":"#555555","strokeWidth":1,"width":{"band":1},"height":{"band":1}},
      "encoding":{
       "x":{"field":"c","type":"nominal","scale":{"domain":["c0","c1","c2","c3"],"paddingInner":0,"paddingOuter":0},"axis":null},
       "y":{"field":"r","type":"nominal","scale":{"domain":["hdr","MYC","CREB5","CDK6"],"paddingInner":0,"paddingOuter":0},"axis":null},
       "fill":{"condition":{"test":"datum.r === 'hdr' && datum.c !== 'c0'","value":"#a8a8a8"},"value":"white"}}},
     {"transform":[{"filter":"datum.c !== 'c0'"}],"mark":{"type":"text","fontSize":12},
      "encoding":{"x":{"field":"c","type":"nominal"},"y":{"field":"r","type":"nominal"},"text":{"field":"t"},
       "color":{"condition":{"test":"datum.r === 'CREB5'","value":"#ff1a1a"},"value":"black"}}},
     {"transform":[{"filter":"datum.c === 'c0'"}],"mark":{"type":"text","fontSize":12,"fontWeight":"bold","fontStyle":"italic"},
      "encoding":{"x":{"field":"c","type":"nominal"},"y":{"field":"r","type":"nominal"},"text":{"field":"t"},
       "color":{"condition":{"test":"datum.r === 'CREB5'","value":"#ff1a1a"},"value":"black"}}}
    ]},
   {"width":66,"height":1,"data":{"values":[]},"mark":"point","title":{"text":"D","anchor":"start","dx":19,"fontSize":17,"fontWeight":"bold","offset":21}},
   {"width":125,"height":128,
    "view":{"fill":"#eaeaf2","stroke":null},
    "title":{"text":"AR vs. CREB5 expression","fontSize":9.5,"fontWeight":"bold","offset":9,"frame":"group"},
    "layer":[
     {"data":{"name":"dL"},"mark":{"type":"circle","size":10,"color":"#4c72b0","opacity":1},
      "encoding":{
       "x":{"field":"creb5","type":"quantitative","scale":{"domain":[-21,122],"nice":false,"zero":false},"axis":{"values":[-20,0,20,40,60,80,100,120],"tickCount":30,"format":"d","labelFlush":false,"title":"CREB5 Expression (TPM)","grid":true,"gridColor":"white","gridWidth":1,"domain":false,"ticks":false,"labelFontSize":8,"labelColor":"#444","labelPadding":3,"titleFontSize":9.5,"titleFontWeight":"bold","titlePadding":5}},
       "y":{"field":"ar","type":"quantitative","scale":{"domain":[-1330,6135],"nice":false,"zero":false},"axis":{"values":[-1000,0,1000,2000,3000,4000,5000,6000],"tickCount":30,"format":"d","labelFlush":false,"title":"AR expression (TPM)","grid":true,"gridColor":"white","gridWidth":1,"domain":false,"ticks":false,"labelFontSize":8.5,"labelColor":"#444","labelPadding":8,"titleFontSize":9.5,"titleFontWeight":"bold","titlePadding":6}}}},
     {"data":{"values":[{}]},"mark":{"type":"text","fontSize":9,"color":"#222"},
      "encoding":{"x":{"datum":99},"y":{"datum":5668},"text":{"value":"R=0.03"}}}
    ]},
   {"width":53,"height":1,"data":{"values":[]},"mark":"point"},
   {"width":133,"height":133,
    "view":{"fill":"#eaeaf2","stroke":null},
    "title":{"text":"KLK3 vs. KLK2 expression","fontSize":10,"fontWeight":"bold","offset":9,"frame":"group"},
    "layer":[
     {"data":{"name":"dR"},"mark":{"type":"circle","size":10,"color":"#4c72b0","opacity":1},
      "encoding":{
       "x":{"field":"klk2","type":"quantitative","scale":{"domain":[-0.25,2.42],"nice":false,"zero":false},"axis":{"values":[0,0.5,1,1.5,2],"tickCount":30,"format":".1f","labelFlush":false,"title":"KLK2 expression (1e4 TPM)","grid":true,"gridColor":"white","gridWidth":1,"domain":false,"ticks":false,"labelFontSize":9.5,"labelColor":"#444","labelPadding":4,"titleFontSize":10.5,"titleFontWeight":"bold","titlePadding":4}},
       "y":{"field":"klk3","type":"quantitative","scale":{"domain":[-0.5,2.05],"nice":false,"zero":false},"axis":{"values":[-0.5,0,0.5,1,1.5,2],"tickCount":30,"format":".1f","labelFlush":false,"title":"KLK3 expression (1e4 TPM)","grid":true,"gridColor":"white","gridWidth":1,"domain":false,"ticks":false,"labelFontSize":9.5,"labelColor":"#444","labelPadding":5,"titleFontSize":9.5,"titleFontWeight":"bold","titlePadding":5}}}},
     {"data":{"values":[{}]},"mark":{"type":"text","fontSize":9.5,"color":"#222"},
      "encoding":{"x":{"datum":1.86},"y":{"datum":1.86},"text":{"value":"R=0.82"}}}
    ]}
  ],"bounds":"flush","spacing":0,"resolve":{"scale":{"color":"independent","xOffset":"independent"},"legend":{"color":"independent"}}},
 {"width":1,"height":34,"data":{"values":[]},"mark":"point"},
 {"hconcat":[
   {"width":38,"height":1,"data":{"values":[]},"mark":"point","title":{"text":"E","anchor":"start","fontSize":17,"fontWeight":"bold","offset":9}},
   {"width":183,"height":144,
    "layer":[
     {"data":{"name":"kmE1"},"mark":{"type":"line","interpolate":"step-after","strokeWidth":1.5},
      "encoding":{
       "x":{"field":"t","type":"quantitative","scale":{"domain":[0,150],"nice":false},"axis":{"values":[0,50,100,150],"tickCount":30,"title":"Time (Months)","titleFontSize":10.5,"titleFontWeight":"bold","labelFontSize":9,"labelFontWeight":"bold","domainWidth":1.5,"tickWidth":1.5,"tickSize":4,"titlePadding":4,"labelPadding":2}},
       "y":{"field":"s","type":"quantitative","scale":{"domain":[-1.8,111.9],"nice":false,"zero":false},"axis":{"values":[0,50,100],"tickCount":30,"title":"Relpase Free (%)","titleFontSize":10.5,"titleFontWeight":"bold","labelFontSize":9,"labelFontWeight":"bold","domainWidth":1.5,"tickWidth":1.5,"tickSize":4,"titlePadding":3,"labelPadding":2}},
       "color":{"field":"grp","type":"nominal","scale":{"domain":["CREB5 HI","Control"],"range":["#ff2a2a","#111111"]},"legend":{"title":null,"orient":"right","offset":-50,"symbolType":"stroke","symbolStrokeWidth":1.5,"symbolSize":150,"labelFontSize":11,"rowPadding":8,"padding":0,"labelOffset":5}}}},
     {"data":{"name":"censE1"},"mark":{"type":"tick","orient":"vertical","size":5,"thickness":1.2},
      "encoding":{"x":{"field":"t","type":"quantitative"},"y":{"field":"s","type":"quantitative"},"color":{"field":"grp","type":"nominal"}}}
    ]},
   {"width":59,"height":1,"data":{"values":[]},"mark":"point"},
   {"width":183,"height":144,
    "layer":[
     {"data":{"name":"kmE2"},"mark":{"type":"line","interpolate":"step-after","strokeWidth":1.5},
      "encoding":{
       "x":{"field":"t","type":"quantitative","scale":{"domain":[0,150],"nice":false},"axis":{"values":[0,50,100,150],"tickCount":30,"title":"Time (Months)","titleFontSize":10.5,"titleFontWeight":"bold","labelFontSize":9,"labelFontWeight":"bold","domainWidth":1.5,"tickWidth":1.5,"tickSize":4,"titlePadding":4,"labelPadding":2}},
       "y":{"field":"s","type":"quantitative","scale":{"domain":[-1.8,111.9],"nice":false,"zero":false},"axis":{"values":[0,50,100],"tickCount":30,"title":"Relpase Free (%)","titleFontSize":10.5,"titleFontWeight":"bold","labelFontSize":9,"labelFontWeight":"bold","domainWidth":1.5,"tickWidth":1.5,"tickSize":4,"titlePadding":3,"labelPadding":2}},
       "color":{"field":"grp","type":"nominal","scale":{"domain":["AR HI","Control"],"range":["#2a3cff","#111111"]},"legend":{"title":null,"orient":"right","offset":-52,"symbolType":"stroke","symbolStrokeWidth":1.5,"symbolSize":150,"labelFontSize":11,"rowPadding":8,"padding":0,"labelOffset":5}}}},
     {"data":{"name":"censE2"},"mark":{"type":"tick","orient":"vertical","size":5,"thickness":1.2},
      "encoding":{"x":{"field":"t","type":"quantitative"},"y":{"field":"s","type":"quantitative"},"color":{"field":"grp","type":"nominal"}}}
    ]},
   {"width":45,"height":1,"data":{"values":[]},"mark":"point"},
   {"width":283,"height":148,
    "view":{"stroke":"#a0a0a0","strokeWidth":1.5},
    "layer":[
     {"data":{"name":"tabEh"},"mark":{"type":"rect","fill":"#f2f2f2","stroke":"#a0a0a0","strokeWidth":1.5,"width":{"band":1},"height":{"band":1}},
      "encoding":{
       "x":{"field":"c","type":"nominal","scale":{"domain":["c0","c1","c2","c3"],"paddingInner":0,"paddingOuter":0},"axis":null},
       "y":{"field":"blk","type":"nominal","scale":{"domain":["hdr","body"],"paddingInner":0,"paddingOuter":0},"axis":null}}},
     {"data":{"name":"tabEg"},"mark":{"type":"rect","fill":"white","stroke":"#a0a0a0","strokeWidth":1.5,"height":{"band":1}},
      "encoding":{"y":{"field":"g","type":"nominal","scale":{"domain":["h1","h2","g1","g2"],"paddingInner":0,"paddingOuter":0},"axis":null}}},
     {"data":{"name":"tabEh"},"mark":{"type":"text","fontSize":13.5,"lineBreak":"\n","color":"#222"},
      "encoding":{"x":{"field":"c","type":"nominal"},"y":{"field":"blk","type":"nominal","scale":{"domain":["hdr","body"],"paddingInner":0,"paddingOuter":0},"axis":null},"text":{"field":"t"}}},
     {"data":{"name":"tabEb"},"transform":[{"filter":"(datum.r === 'r1' || datum.r === 'r3') && datum.c !== 'c3'"}],"mark":{"type":"text","fontSize":14.5,"fontWeight":"bold","color":"#111"},
      "encoding":{"x":{"field":"c","type":"nominal"},"y":{"field":"r","type":"nominal","scale":{"domain":["a","b","c","d","r1","r2","r3","r4"],"paddingInner":0,"paddingOuter":0},"axis":null},"text":{"field":"t"}}},
     {"data":{"name":"tabEb"},"transform":[{"filter":"!((datum.r === 'r1' || datum.r === 'r3') && datum.c !== 'c3')"}],"mark":{"type":"text","fontSize":14.5,"color":"#222"},
      "encoding":{"x":{"field":"c","type":"nominal"},"y":{"field":"r","type":"nominal","scale":{"domain":["a","b","c","d","r1","r2","r3","r4"],"paddingInner":0,"paddingOuter":0},"axis":null},"text":{"field":"t"}}}
    ],
    "resolve":{"scale":{"y":"independent"}}}
  ],"bounds":"flush","spacing":0,"resolve":{"scale":{"color":"independent"},"legend":{"color":"independent"}}}
]
}
